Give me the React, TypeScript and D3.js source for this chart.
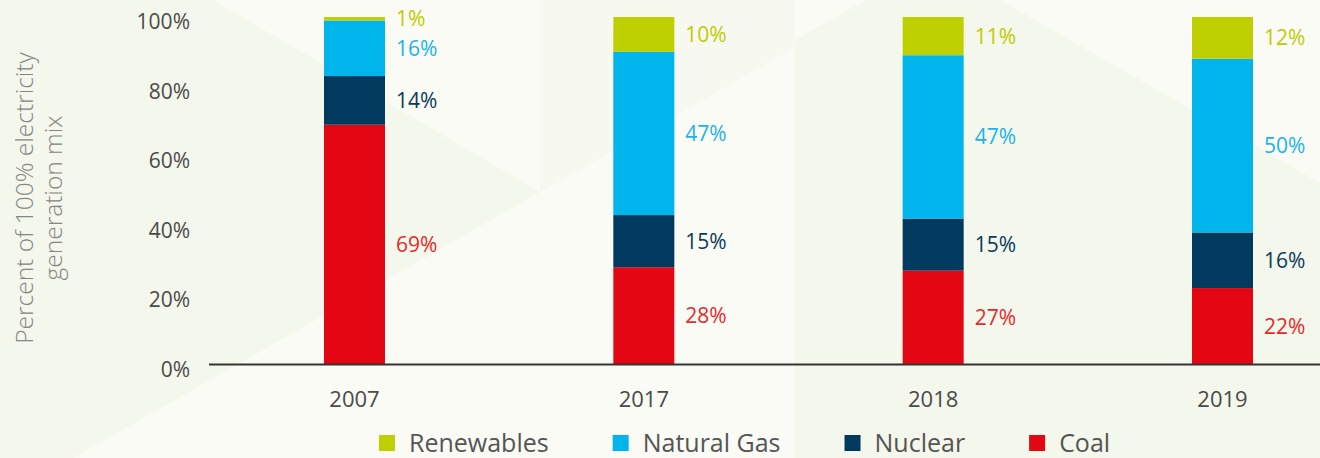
import React, { useEffect, useRef } from 'react';
import * as d3 from 'd3';

const years = ['2007', '2017', '2018', '2019'];
const coal = [69, 28, 27, 22];
const nuclear = [14, 15, 15, 16];
const naturalGas = [16, 47, 47, 50];
const renewables = [1, 10, 11, 12];
const seriesKeys = ['Coal', 'Nuclear', 'Natural Gas', 'Renewables'];
const legendOrder = ['Renewables', 'Natural Gas', 'Nuclear', 'Coal'];
const yTicks = [0, 20, 40, 60, 80, 100];
const yTitleLines = ['Percent of 100% electricity', 'generation mix'];

const barColors: Record<string, string> = {
  Coal: '#E30613',
  Nuclear: '#003A5E',
  'Natural Gas': '#00B5EC',
  Renewables: '#BED000',
};
const labelColors: Record<string, string> = {
  Coal: '#E52A2A',
  Nuclear: '#0B3A5C',
  'Natural Gas': '#1DB3E8',
  Renewables: '#BDCC00',
};

const W = 1320;
const H = 458;
const FONT = "'Open Sans', 'Noto Sans', sans-serif";

export default function App() {
  const ref = useRef<SVGSVGElement | null>(null);

  useEffect(() => {
    document.body.style.margin = '0';
    const svg = d3.select(ref.current);
    svg.selectAll('*').remove();

    // background decoration
    const bg = svg.append('g');
    bg.append('rect').attr('width', W).attr('height', H).attr('fill', '#F4F7EB');
    const light = '#FAFBF5';
    const mid = '#F7F9F0';
    const polys: [string, string][] = [
      ['M213,0 L540,0 L540,192 Z', light],
      ['M73,458 L540,192 L795,47 L795,458 Z', light],
      ['M540,0 L866,0 L795,40 L795,47 L540,192 Z', mid],
      ['M795,0 L866,0 L795,40 Z', light],
      ['M1000,0 L1320,0 L1320,183 Z', light],
    ];
    polys.forEach(([d, c]) => bg.append('path').attr('d', d).attr('fill', c));

    const rows = years.map((yr, i) => ({
      year: yr,
      Coal: coal[i],
      Nuclear: nuclear[i],
      'Natural Gas': naturalGas[i],
      Renewables: renewables[i],
    }));
    const stacked = d3.stack<any>().keys(seriesKeys)(rows);

    const x = d3.scalePoint<string>().domain(years).range([354.5, 1222.5]);
    const barW = 61;
    const y = d3.scaleLinear().domain([0, 100]).range([364.5, 17]);

    const gBars = svg.append('g');
    stacked.forEach((layer) => {
      const key = layer.key;
      gBars
        .selectAll(null)
        .data(layer)
        .enter()
        .append('rect')
        .attr('x', (d: any) => (x(d.data.year) as number) - barW / 2)
        .attr('y', (d: any) => y(d[1]))
        .attr('width', barW)
        .attr('height', (d: any) => y(d[0]) - y(d[1]))
        .attr('fill', barColors[key]);
    });

    // value labels
    const gLab = svg.append('g').attr('font-family', FONT).attr('font-size', 21);
    stacked.forEach((layer) => {
      const key = layer.key;
      gLab
        .selectAll(null)
        .data(layer)
        .enter()
        .append('text')
        .attr('x', (d: any) => (x(d.data.year) as number) + barW / 2 + 11)
        .attr('y', (d: any) => (y(d[0]) + y(d[1])) / 2)
        .attr('dy', '0.36em')
        .attr('fill', labelColors[key])
        .text((d: any) => `${d[1] - d[0]}%`);
    });

    // baseline axis
    svg
      .append('line')
      .attr('x1', 209)
      .attr('x2', W)
      .attr('y1', y(0))
      .attr('y2', y(0))
      .attr('stroke', '#333')
      .attr('stroke-width', 2);

    // y ticks
    const gY = svg.append('g').attr('font-family', FONT).attr('font-size', 21).attr('fill', '#4a4a4a');
    gY.selectAll(null)
      .data(yTicks)
      .enter()
      .append('text')
      .attr('x', 190)
      .attr('y', (d) => y(d) + 5)
      .attr('dy', '0.35em')
      .attr('text-anchor', 'end')
      .text((d) => `${d}%`);

    // x labels
    const gX = svg.append('g').attr('font-family', FONT).attr('font-size', 22).attr('fill', '#4a4a4a');
    gX.selectAll(null)
      .data(years)
      .enter()
      .append('text')
      .attr('x', (d) => x(d) as number)
      .attr('y', 407)
      .attr('text-anchor', 'middle')
      .text((d) => d);

    // y title
    const gT = svg
      .append('g')
      .attr('font-family', FONT)
      .attr('font-size', 24.5)
      .attr('font-weight', 300)
      .attr('fill', '#858585');
    yTitleLines.forEach((line, i) => {
      gT.append('text')
        .attr('transform', `translate(${33 + i * 29},198) rotate(-90)`)
        .attr('text-anchor', 'middle')
        .text(line);
    });

    // legend
    const gL = svg.append('g').attr('font-family', FONT).attr('font-size', 25).attr('fill', '#555');
    let lx = 379;
    legendOrder.forEach((key) => {
      gL.append('rect').attr('x', lx).attr('y', 435).attr('width', 16).attr('height', 16).attr('fill', barColors[key]);
      const t = gL.append('text').attr('x', lx + 30).attr('y', 452).text(key);
      const w = (t.node() as SVGTextElement).getComputedTextLength();
      lx = lx + 30 + w + 64;
    });
  }, []);

  return <svg ref={ref} width={W} height={H} style={{ display: 'block' }} />;
}
